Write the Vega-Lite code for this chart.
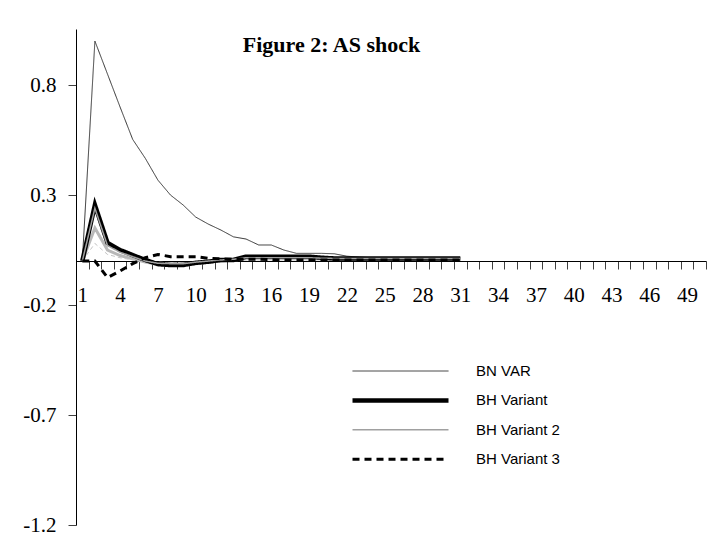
{
  "$schema": "https://vega.github.io/schema/vega-lite/v6.json",
  "width": 630,
  "height": 496,
  "autosize": {"type": "none"},
  "padding": {"left": 76, "top": 29, "right": 1, "bottom": 17},
  "background": "white",
  "data": {
    "values": [
      {"t": 1, "BN VAR": 0, "BH Variant": 0, "BH Variant 2": 0, "BH Variant 3": 0, "g1": 0, "g2": 0},
      {"t": 2, "BN VAR": 1.0, "BH Variant": 0.255, "BH Variant 2": 0.24, "BH Variant 3": 0.0, "g1": 0.15, "g2": 0.08},
      {"t": 3, "BN VAR": 0.85, "BH Variant": 0.083, "BH Variant 2": 0.07, "BH Variant 3": -0.075, "g1": 0.05, "g2": 0.03},
      {"t": 4, "BN VAR": 0.7, "BH Variant": 0.05, "BH Variant 2": 0.04, "BH Variant 3": -0.045, "g1": 0.025, "g2": 0.015},
      {"t": 5, "BN VAR": 0.553, "BH Variant": 0.027, "BH Variant 2": 0.02, "BH Variant 3": -0.012, "g1": 0.01, "g2": 0.005},
      {"t": 6, "BN VAR": 0.467, "BH Variant": 0.005, "BH Variant 2": 0.0, "BH Variant 3": 0.015, "g1": -0.005, "g2": 0},
      {"t": 7, "BN VAR": 0.368, "BH Variant": -0.014, "BH Variant 2": -0.01, "BH Variant 3": 0.03, "g1": -0.015, "g2": -0.005},
      {"t": 8, "BN VAR": 0.3, "BH Variant": -0.018, "BH Variant 2": -0.012, "BH Variant 3": 0.02, "g1": -0.02, "g2": -0.008},
      {"t": 9, "BN VAR": 0.255, "BH Variant": -0.018, "BH Variant 2": -0.012, "BH Variant 3": 0.02, "g1": -0.02, "g2": -0.008},
      {"t": 10, "BN VAR": 0.2, "BH Variant": -0.008, "BH Variant 2": -0.005, "BH Variant 3": 0.02, "g1": -0.012, "g2": -0.005},
      {"t": 11, "BN VAR": 0.168, "BH Variant": -0.003, "BH Variant 2": 0.0, "BH Variant 3": 0.012, "g1": -0.005, "g2": 0},
      {"t": 12, "BN VAR": 0.141, "BH Variant": 0.005, "BH Variant 2": 0.005, "BH Variant 3": 0.01, "g1": 0.0, "g2": 0.002},
      {"t": 13, "BN VAR": 0.11, "BH Variant": 0.005, "BH Variant 2": 0.008, "BH Variant 3": 0.008, "g1": 0.005, "g2": 0.004},
      {"t": 14, "BN VAR": 0.1, "BH Variant": 0.02, "BH Variant 2": 0.015, "BH Variant 3": 0.008, "g1": 0.01, "g2": 0.006},
      {"t": 15, "BN VAR": 0.073, "BH Variant": 0.02, "BH Variant 2": 0.015, "BH Variant 3": 0.008, "g1": 0.01, "g2": 0.006},
      {"t": 16, "BN VAR": 0.073, "BH Variant": 0.02, "BH Variant 2": 0.015, "BH Variant 3": 0.006, "g1": 0.01, "g2": 0.006},
      {"t": 17, "BN VAR": 0.05, "BH Variant": 0.02, "BH Variant 2": 0.015, "BH Variant 3": 0.005, "g1": 0.01, "g2": 0.006},
      {"t": 18, "BN VAR": 0.035, "BH Variant": 0.02, "BH Variant 2": 0.015, "BH Variant 3": 0.005, "g1": 0.01, "g2": 0.006},
      {"t": 19, "BN VAR": 0.035, "BH Variant": 0.02, "BH Variant 2": 0.015, "BH Variant 3": 0.005, "g1": 0.01, "g2": 0.006},
      {"t": 20, "BN VAR": 0.035, "BH Variant": 0.015, "BH Variant 2": 0.013, "BH Variant 3": 0.005, "g1": 0.009, "g2": 0.006},
      {"t": 21, "BN VAR": 0.033, "BH Variant": 0.012, "BH Variant 2": 0.012, "BH Variant 3": 0.005, "g1": 0.008, "g2": 0.006},
      {"t": 22, "BN VAR": 0.022, "BH Variant": 0.012, "BH Variant 2": 0.012, "BH Variant 3": 0.005, "g1": 0.008, "g2": 0.006},
      {"t": 23, "BN VAR": 0.018, "BH Variant": 0.012, "BH Variant 2": 0.012, "BH Variant 3": 0.005, "g1": 0.008, "g2": 0.006},
      {"t": 24, "BN VAR": 0.015, "BH Variant": 0.012, "BH Variant 2": 0.012, "BH Variant 3": 0.005, "g1": 0.008, "g2": 0.006},
      {"t": 25, "BN VAR": 0.015, "BH Variant": 0.012, "BH Variant 2": 0.012, "BH Variant 3": 0.005, "g1": 0.008, "g2": 0.006},
      {"t": 26, "BN VAR": 0.015, "BH Variant": 0.012, "BH Variant 2": 0.012, "BH Variant 3": 0.005, "g1": 0.008, "g2": 0.006},
      {"t": 27, "BN VAR": 0.015, "BH Variant": 0.012, "BH Variant 2": 0.012, "BH Variant 3": 0.005, "g1": 0.008, "g2": 0.006},
      {"t": 28, "BN VAR": 0.015, "BH Variant": 0.012, "BH Variant 2": 0.012, "BH Variant 3": 0.005, "g1": 0.008, "g2": 0.006},
      {"t": 29, "BN VAR": 0.015, "BH Variant": 0.012, "BH Variant 2": 0.012, "BH Variant 3": 0.005, "g1": 0.008, "g2": 0.006},
      {"t": 30, "BN VAR": 0.015, "BH Variant": 0.012, "BH Variant 2": 0.012, "BH Variant 3": 0.005, "g1": 0.008, "g2": 0.006},
      {"t": 31, "BN VAR": 0.015, "BH Variant": 0.012, "BH Variant 2": 0.012, "BH Variant 3": 0.005, "g1": 0.008, "g2": 0.006}
    ]
  },
  "layer": [
    {
      "transform": [{"fold": ["g1"], "as": ["series", "v"]}],
      "mark": {"type": "line", "color": "#b8b8b8", "strokeWidth": 3},
      "encoding": {
        "x": {
          "field": "t",
          "type": "ordinal",
          "bandPosition": 0.5,
          "scale": {
            "type": "band",
            "paddingInner": 0,
            "paddingOuter": 0,
            "domain": [1,2,3,4,5,6,7,8,9,10,11,12,13,14,15,16,17,18,19,20,21,22,23,24,25,26,27,28,29,30,31,32,33,34,35,36,37,38,39,40,41,42,43,44,45,46,47,48,49,50]
          },
          "axis": {
            "title": null,
            "orient": "bottom",
            "offset": -264,
            "labelAngle": 0,
            "labelExpr": "(datum.value - 1) % 3 == 0 ? datum.label : ''",
            "labelFont": "Liberation Serif",
            "labelFontSize": 21,
            "labelColor": "black",
            "labelBaseline": "top",
            "labelPadding": 15,
            "labelOverlap": false,
            "tickBand": "extent",
            "tickSize": 8,
            "tickColor": "#404040",
            "domainColor": "black",
            "grid": false
          }
        },
        "y": {
          "field": "v",
          "type": "quantitative",
          "scale": {"domain": [-1.2, 1.055], "nice": false, "zero": false},
          "axis": {
            "title": null,
            "values": [-1.2, -0.7, -0.2, 0.3, 0.8],
            "labelExpr": "(datum.value < 0 ? '-' : '') + format(abs(datum.value), '.1f')",
            "labelFont": "Liberation Serif",
            "labelFontSize": 21,
            "labelColor": "black",
            "labelPadding": 12,
            "tickSize": 8,
            "tickColor": "#404040",
            "domainColor": "black",
            "grid": false
          }
        },
        "detail": {"field": "series"}
      }
    },
    {
      "transform": [{"fold": ["g2"], "as": ["series", "v"]}],
      "mark": {"type": "line", "color": "#c4c4c4", "strokeWidth": 1, "strokeDash": [4, 3]},
      "encoding": {
        "x": {"field": "t", "type": "ordinal", "bandPosition": 0.5},
        "y": {"field": "v", "type": "quantitative"},
        "detail": {"field": "series"}
      }
    },
    {
      "transform": [{"fold": ["BN VAR", "BH Variant", "BH Variant 2", "BH Variant 3"], "as": ["series", "v"]}],
      "mark": {"type": "line"},
      "encoding": {
        "x": {"field": "t", "type": "ordinal", "bandPosition": 0.5},
        "y": {"field": "v", "type": "quantitative"},
        "color": {
          "field": "series",
          "type": "nominal",
          "scale": {"domain": ["BN VAR", "BH Variant", "BH Variant 2", "BH Variant 3"], "range": ["#333333", "#000000", "#a0a0a0", "#000000"]},
          "legend": {
            "title": null,
            "orient": "none",
            "legendX": 274,
            "legendY": 332,
            "padding": 0,
            "symbolType": "stroke",
            "symbolSize": 9216,
            "clipHeight": 20,
            "labelFont": "Liberation Sans",
            "labelFontSize": 15,
            "labelColor": "black",
            "labelOffset": 25,
            "rowPadding": 9.4
          }
        },
        "strokeWidth": {
          "field": "series",
          "type": "nominal",
          "scale": {"type": "ordinal", "domain": ["BN VAR", "BH Variant", "BH Variant 2", "BH Variant 3"], "range": [1, 4.5, 1.5, 3]}
        },
        "strokeDash": {
          "field": "series",
          "type": "nominal",
          "scale": {"domain": ["BN VAR", "BH Variant", "BH Variant 2", "BH Variant 3"], "range": [[1, 0], [1, 0], [1, 0], [7, 5]]}
        }
      }
    },
    {
      "data": {"values": [{"label": "Figure 2: AS shock"}]},
      "mark": {
        "type": "text",
        "font": "Liberation Serif",
        "fontSize": 22,
        "fontWeight": "bold",
        "fill": "black",
        "opacity": 1,
        "align": "left",
        "baseline": "alphabetic",
        "dx": 3
      },
      "encoding": {
        "x": {"datum": 14, "type": "ordinal", "bandPosition": 0},
        "y": {"datum": 0.95, "type": "quantitative"},
        "text": {"field": "label", "type": "nominal"}
      }
    }
  ],
  "config": {
    "view": {"stroke": null}
  }
}
